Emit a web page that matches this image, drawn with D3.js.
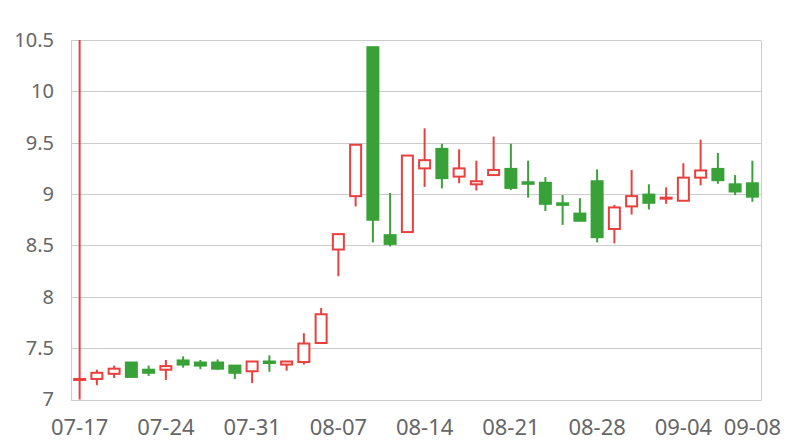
<!DOCTYPE html>
<html>
<head>
<meta charset="utf-8">
<script src="https://cdn.jsdelivr.net/npm/d3@7"></script>
<style>
  html, body { margin: 0; padding: 0; background: #fff; }
  svg { display: block; }
</style>
</head>
<body>
<svg id="chart" width="800" height="440"></svg>
<script>
const dates = ["07-17","07-18","07-19","07-20","07-21","07-24","07-25","07-26","07-27","07-28",
  "07-31","08-01","08-02","08-03","08-04","08-07","08-08","08-09","08-10","08-11",
  "08-14","08-15","08-16","08-17","08-18","08-21","08-22","08-23","08-24","08-25",
  "08-28","08-29","08-30","08-31","09-01","09-04","09-05","09-06","09-07","09-08"];
const openVals  = [7.19,7.20,7.25,7.36,7.29,7.29,7.38,7.36,7.36,7.33,
  7.275,7.37,7.34,7.365,7.55,8.46,8.98,10.43,8.60,8.63,
  9.25,9.44,9.17,9.095,9.185,9.245,9.115,9.11,8.91,8.81,
  9.125,8.66,8.88,8.995,8.955,8.935,9.16,9.245,9.095,9.105];
const closeVals = [7.20,7.26,7.30,7.22,7.26,7.325,7.34,7.33,7.30,7.26,
  7.37,7.355,7.37,7.545,7.83,8.61,9.48,8.75,8.515,9.375,
  9.33,9.155,9.25,9.125,9.235,9.06,9.10,8.905,8.895,8.74,
  8.58,8.87,8.98,8.915,8.965,9.16,9.23,9.135,9.025,8.975];
const highVals  = [10.5,7.29,7.33,7.36,7.33,7.385,7.42,7.385,7.39,7.33,
  7.37,7.43,7.375,7.645,7.89,8.61,9.48,10.43,9.01,9.375,
  9.64,9.49,9.435,9.325,9.56,9.49,9.325,9.165,8.99,8.96,
  9.24,8.895,9.235,9.095,9.065,9.30,9.53,9.40,9.185,9.325];
const lowVals   = [7.0,7.14,7.21,7.22,7.23,7.19,7.31,7.295,7.29,7.20,
  7.16,7.27,7.28,7.34,7.55,8.20,8.88,8.53,8.49,8.63,
  9.07,9.055,9.105,9.035,9.18,9.04,8.965,8.835,8.70,8.74,
  8.53,8.52,8.80,8.85,8.905,8.935,9.085,9.10,8.99,8.925];
const yTicks = [7, 7.5, 8, 8.5, 9, 9.5, 10, 10.5];
const xLabelIdx = [0, 5, 10, 15, 20, 25, 30, 35, 39];

const UP = "#e8403f", DOWN = "#38a137", GRID = "#cccccc", TEXT = "#666666";
const FONT = "'Noto Sans', 'DejaVu Sans', sans-serif";

const svg = d3.select("#chart");
const pLeft = 71, pRight = 761, pTop = 40, pBottom = 399.5;

const x = d3.scaleBand().domain(dates).range([pLeft, pRight]).padding(0);
const y = d3.scaleLinear().domain([7, 10.5]).range([pBottom, pTop]);

// grid lines
svg.append("g").selectAll("line").data(yTicks).join("line")
  .attr("x1", pLeft).attr("x2", pRight)
  .attr("y1", d => Math.round(y(d)) + 0.5).attr("y2", d => Math.round(y(d)) + 0.5)
  .attr("stroke", GRID).attr("stroke-width", 1);
// left and right frame lines
svg.append("g").selectAll("line").data([pLeft, pRight]).join("line")
  .attr("x1", d => d + 0.5).attr("x2", d => d + 0.5)
  .attr("y1", Math.round(y(10.5)) + 0.5).attr("y2", Math.round(y(7)) + 0.5)
  .attr("stroke", GRID).attr("stroke-width", 1);

// y axis labels
const yAxis = d3.axisLeft(y).tickValues(yTicks).tickSize(0).tickPadding(17).tickFormat(d => String(d));
const gy = svg.append("g").attr("transform", `translate(${pLeft},0)`).call(yAxis);
gy.select(".domain").remove();
gy.selectAll("text").attr("fill", TEXT).attr("font-size", 20).attr("font-family", FONT);

// x axis labels
const xAxis = d3.axisBottom(x).tickValues(xLabelIdx.map(i => dates[i])).tickSize(0).tickPadding(20);
const gx = svg.append("g").attr("transform", `translate(0,${pBottom})`).call(xAxis);
gx.select(".domain").remove();
gx.selectAll("text").attr("fill", TEXT).attr("font-size", 22).attr("font-family", FONT);

// candles
const data = dates.map((d, i) => ({d, o: openVals[i], c: closeVals[i], h: highVals[i], l: lowVals[i]}));
const bw = 11;
const g = svg.append("g");
const candle = g.selectAll("g.c").data(data).join("g").attr("class", "c");
candle.append("line")
  .attr("x1", d => x(d.d) + x.bandwidth() / 2).attr("x2", d => x(d.d) + x.bandwidth() / 2)
  .attr("y1", d => y(d.h)).attr("y2", d => y(d.l))
  .attr("stroke", d => d.c >= d.o ? UP : DOWN).attr("stroke-width", 2);
candle.append("rect")
  .attr("x", d => x(d.d) + x.bandwidth() / 2 - bw / 2)
  .attr("width", bw)
  .attr("y", d => y(Math.max(d.o, d.c)))
  .attr("height", d => Math.max(1, Math.abs(y(d.o) - y(d.c))))
  .attr("fill", d => d.c >= d.o ? "#ffffff" : DOWN)
  .attr("stroke", d => d.c >= d.o ? UP : DOWN)
  .attr("stroke-width", 2);
</script>
</body>
</html>
